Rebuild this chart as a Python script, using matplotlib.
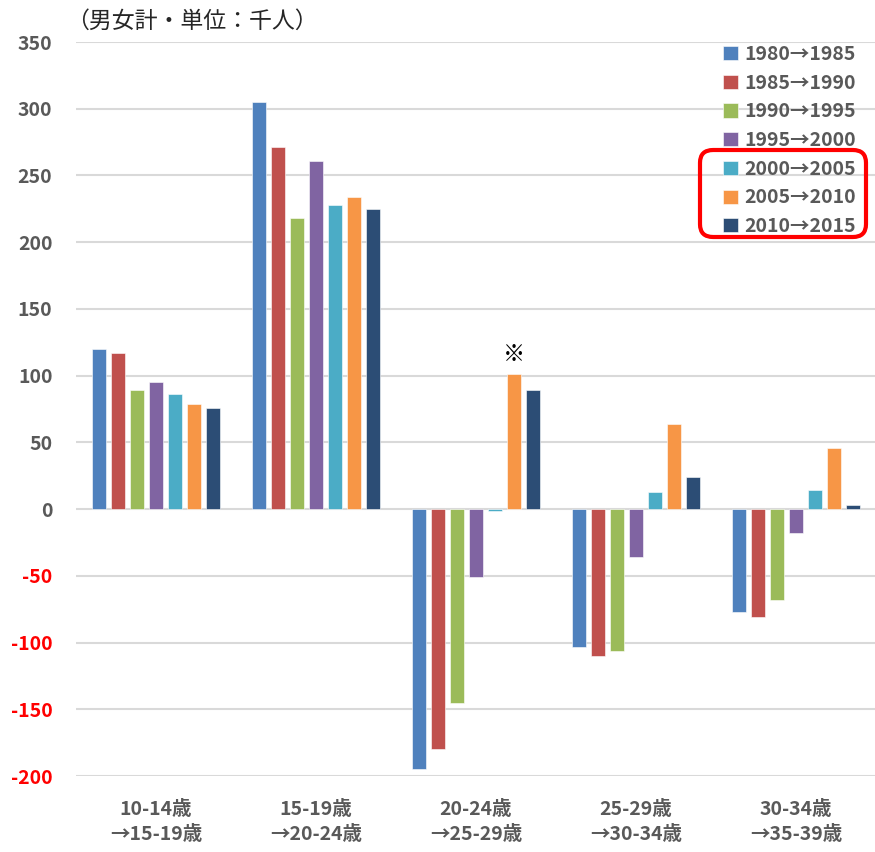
import matplotlib
matplotlib.use('Agg')
import matplotlib.pyplot as plt
from matplotlib.patches import FancyBboxPatch
import numpy as np

plt.rcParams['font.family'] = ['Noto Sans CJK JP', 'DejaVu Sans']

groups = ['10-14歳\n→15-19歳', '15-19歳\n→20-24歳', '20-24歳\n→25-29歳',
          '25-29歳\n→30-34歳', '30-34歳\n→35-39歳']
periods = ['1980→1985', '1985→1990', '1990→1995', '1995→2000',
           '2000→2005', '2005→2010', '2010→2015']
colors = ['#4F81BD', '#C0504D', '#9BBB59', '#8064A2', '#4BACC6', '#F79646', '#2C4D75']

# values per period, one per age group (thousand persons)
v1980 = [120, 305, -195, -103, -77]
v1985 = [117, 271, -180, -110, -81]
v1990 = [89, 218, -145, -106, -68]
v1995 = [95, 261, -51, -36, -18]
v2000 = [86, 228, -1.5, 13, 14]
v2005 = [79, 234, 101, 64, 46]
v2010 = [76, 225, 89, 24, 3]
values = [v1980, v1985, v1990, v1995, v2000, v2005, v2010]

gray = '#595959'
fig = plt.figure(figsize=(8.75, 8.52), dpi=100)
ax = fig.add_axes([76 / 875, 1 - 776 / 852, 800 / 875, (776 - 42) / 852])

x = np.arange(len(groups))
pitch = 0.119
width = 0.092
for i, vals in enumerate(values):
    ax.bar(x + (i - 3) * pitch, vals, width, color=colors[i],
           edgecolor='white', linewidth=0.4, zorder=3, label=periods[i])

ax.set_xlim(-0.5, 4.5)
ax.set_ylim(-200, 350)
yt = list(range(-200, 351, 50))
ax.set_yticks(yt)
ax.yaxis.grid(True, color='#D9D9D9', linewidth=1.5, zorder=0)
ax.set_axisbelow(True)
for s in ax.spines.values():
    s.set_visible(False)
ax.tick_params(axis='both', length=0)
ax.tick_params(axis='y', pad=17)
ax.set_yticklabels([str(t) for t in yt], fontsize=14, fontweight='bold')
for lbl, t in zip(ax.get_yticklabels(), yt):
    lbl.set_color('#FF0000' if t < 0 else gray)
ax.set_xticks(x)
ax.set_xticklabels(groups, fontsize=14, fontweight='bold', color=gray,
                   linespacing=1.45)
ax.tick_params(axis='x', pad=17)

leg = ax.legend(loc='upper right', bbox_to_anchor=(0.997, 1.02), frameon=False,
                handlelength=0.75, handleheight=0.75, handletextpad=0.35,
                labelspacing=0.5, prop={'size': 14, 'weight': 'bold'})
for t in leg.get_texts():
    t.set_color(gray)

# red rounded frame around the last three legend entries
box = FancyBboxPatch((700 / 875, 1 - 237 / 852), 166 / 875, 87 / 852,
                     boxstyle='round,pad=0,rounding_size=0.015',
                     transform=fig.transFigure, fill=False,
                     edgecolor='#FF0000', linewidth=3, zorder=10)
fig.patches.append(box)

ax.annotate('※', xy=(2 + 2 * pitch, v2005[2]), xytext=(0, 6),
            textcoords='offset points', ha='center', va='bottom',
            fontsize=16, color='black')

fig.text(66 / 875, 1 - 21 / 852, '（男女計・単位：千人）', fontsize=16.5,
         color='#262626', ha='left', va='center')

fig.savefig('out.png', dpi=100)
